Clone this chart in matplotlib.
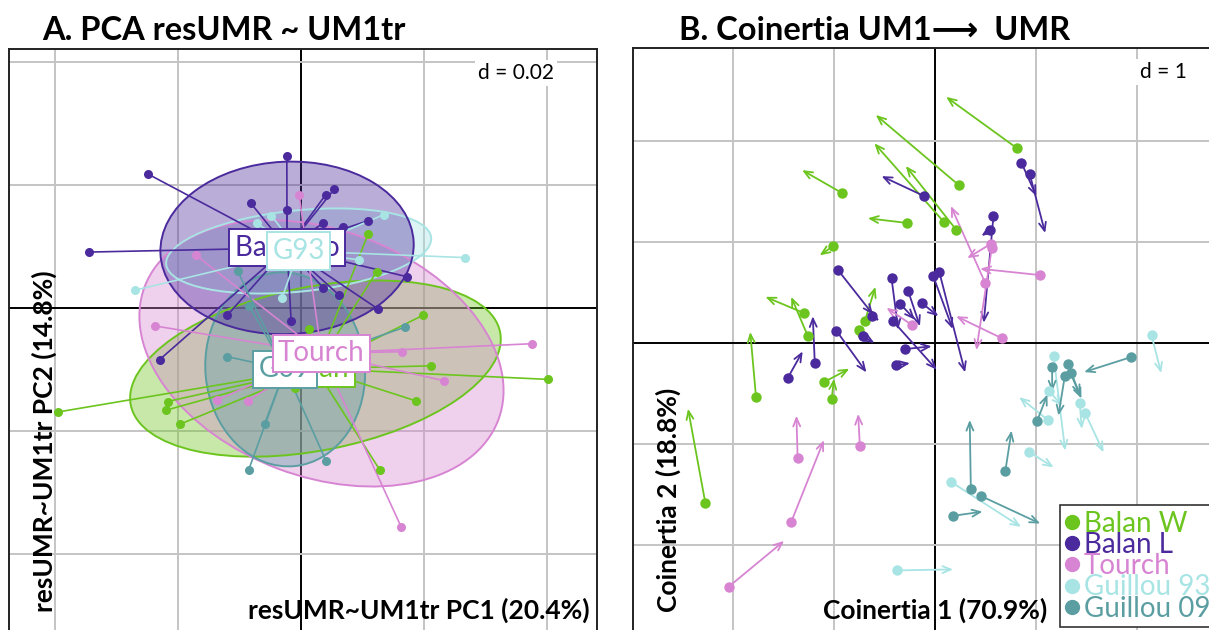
import numpy as np
import matplotlib.pyplot as plt
from matplotlib.patches import Ellipse
from matplotlib.lines import Line2D

plt.rcParams['font.family'] = ['Lato', 'DejaVu Sans']

W, H = 1209, 630

groups = ['Balan W', 'Balan L', 'Tourch', 'Guillou 93', 'Guillou 09']
short_names = ['Balan', 'Balan Lo', 'Tourch', 'G93', 'G09']
colors = ['#6cc51e', '#4a2a9c', '#d785d2', '#a8e4e4', '#5b9ea2']

# ---- panel A : PCA of resUMR ~ UM1tr (scores) ----
pca_x = {
    'Balan W': [0.0109, 0.0123, 0.0013, 0.0198, 0.0212, 0.0401, 0.0187, 0.0128, -0.0395, -0.0217, -0.0219, -0.0197,
                0.0000, 0.0020, -0.0010],
    'Balan L': [-0.0023, -0.0249, -0.0345, -0.0082, -0.0023, 0.0040, 0.0054, 0.0036, 0.0068, 0.0109, 0.0172,
                0.0126, 0.0036, 0.0062, -0.0120, -0.0016, -0.0230],
    'Tourch': [-0.0003, -0.0171, -0.0238, 0.0164, 0.0376, 0.0232, -0.0137, -0.0086, 0.0163],
    'Guillou 93': [-0.0072, -0.0048, 0.0135, 0.0267, -0.0270, -0.0031, 0.0095, -0.0050, -0.0060],
    'Guillou 09': [-0.0103, -0.0084, -0.0120, 0.0169, -0.0059, -0.0085, 0.0041, -0.0010, 0.0020],
}
pca_y = {
    'Balan W': [0.0120, 0.0059, -0.0034, -0.0012, -0.0094, -0.0116, -0.0151, -0.0263, -0.0169, -0.0152, -0.0166, -0.0189,
                -0.0070, -0.0110, -0.0130],
    'Balan L': [0.0248, 0.0218, 0.0091, 0.0171, 0.0159, 0.0184, 0.0193, 0.0138, 0.0132, 0.0142, 0.0051,
                -0.0002, 0.0033, 0.0021, -0.0012, -0.0021, -0.0084],
    'Tourch': [0.0184, 0.0086, -0.0029, -0.0071, -0.0058, -0.0118, -0.0150, -0.0151, -0.0356],
    'Guillou 93': [0.0138, 0.0150, 0.0152, 0.0082, 0.0029, 0.0016, 0.0078, 0.0100, 0.0090],
    'Guillou 09': [0.0060, 0.0003, -0.0079, -0.0031, -0.0188, -0.0263, -0.0249, -0.0060, -0.0090],
}

# ---- panel B : coinertia, UM1 (dot) -> UMR (arrow head) ----
co_x0 = {
    'Balan W': [0.814, 0.236, -0.924, -0.281, 0.091, 0.209, -1.011, -1.301, -1.258, -0.695, -0.757, -1.099, -1.023, -1.772, -2.274],
    'Balan L': [0.856, 0.939, -0.106, 0.579, 0.546, -0.96, -0.43, -0.265, -0.348, -0.132, -0.017, 0.043, -0.414,
                -0.298, -0.977, -0.712, -1.19, -1.46, -0.39, -0.62],
    'Tourch': [0.55, 0.563, 1.043, 0.497, 0.662, -0.227, -1.36, -0.744, -1.423, -2.043],
    'Guillou 93': [2.144, 1.175, 1.129, 1.118, 1.433, 1.487, 0.928, 0.156, -0.376],
    'Guillou 09': [1.943, 1.16, 1.315, 1.342, 1.285, 1.01, 0.696, 0.355, 0.457, 0.175],
}
co_y0 = {
    'Balan W': [1.927, 1.563, 1.487, 1.189, 1.195, 1.123, 0.957, 0.298, 0.066, 0.215, 0.126, -0.387, -0.556, -0.536, -1.583],
    'Balan L': [1.785, 1.669, 1.454, 1.258, 1.119, 0.722, 0.639, 0.513, 0.391, 0.397, 0.662, 0.702, 0.215,
                -0.06, 0.123, 0.066, -0.2, -0.35, -0.22, 0.265],
    'Tourch': [0.98, 0.944, 0.672, 0.596, 0.047, 0.178, -1.135, -1.017, -1.771, -2.414],
    'Guillou 93': [0.076, -0.132, -0.477, -0.762, -0.596, -0.695, -1.076, -1.374, -2.252],
    'Guillou 09': [-0.139, -0.235, -0.205, -0.298, -0.331, -0.775, -1.272, -1.445, -1.516, -1.712],
}
co_x1 = {
    'Balan W': [0.11, -0.586, -1.316, -0.665, -0.6, -0.289, -1.142, -1.679, -1.424, -0.59, -0.79, -0.848, -1.0, -1.829, -2.445],
    'Balan L': [1.004, 1.091, -0.529, 0.483, 0.46, -0.613, -0.364, -0.149, -0.199, 0.033, 0.175, 0.298, 0.017,
                -0.033, -0.679, -0.6, -1.21, -1.31, -0.248, -0.55],
    'Tourch': [0.32, 0.41, 0.447, 0.157, 0.21, -0.48, -1.372, -0.761, -1.1, -1.494],
    'Guillou 93': [2.24, 1.289, 1.26, 0.833, 1.454, 1.669, 1.175, 0.852, 0.179],
    'Guillou 09': [1.477, 1.16, 1.437, 1.45, 1.222, 1.113, 0.758, 0.344, 1.042, 0.471],
}
co_y1 = {
    'Balan W': [2.437, 2.258, 1.712, 1.235, 1.977, 1.752, 0.868, 0.457, 0.457, 0.556, 0.17, -0.255, -0.354, 0.109, -0.652],
    'Balan L': [1.454, 1.089, 1.652, 0.2, 1.06, 0.281, 0.132, 0.166, 0.232, 0.265, 0.139, -0.291, -0.265,
                -0.033, -0.291, 0.0, 0.265, -0.083, -0.2, 0.22],
    'Tourch': [0.84, -0.07, 0.735, 1.356, 0.265, 0.348, -0.72, -0.702, -0.962, -1.96],
    'Guillou 93': [-0.298, -1.066, -0.62, -0.536, -0.851, -1.083, -1.232, -1.821, -2.242],
    'Guillou 09': [-0.288, -0.48, -0.52, -0.55, -0.719, -0.51, -0.868, -0.762, -1.788, -1.67],
}


def px_rect(x0, y0, x1, y1):
    return [x0 / W, 1 - y1 / H, (x1 - x0) / W, (y1 - y0) / H]


def grid(ax, d, xlim, ylim):
    for v in np.arange(np.ceil(xlim[0] / d), np.floor(xlim[1] / d) + 1) * d:
        ax.axvline(v, color='black' if abs(v) < 1e-9 else '#c4c4c4', lw=1.4, zorder=0)
    for v in np.arange(np.ceil(ylim[0] / d), np.floor(ylim[1] / d) + 1) * d:
        ax.axhline(v, color='black' if abs(v) < 1e-9 else '#c4c4c4', lw=1.4, zorder=0)
    ax.set_xlim(xlim)
    ax.set_ylim(ylim)
    ax.set_xticks([])
    ax.set_yticks([])
    for s in ax.spines.values():
        s.set_linewidth(1.4)
        s.set_color('#222222')


fig = plt.figure(figsize=(W / 100, H / 100), dpi=100)

# ---------------- A ----------------
axA = fig.add_axes(px_rect(9, 49, 597, 640))
grid(axA, 0.02, (-0.04748, 0.04814), (-0.05398, 0.04212))

ell_order = ['Balan W', 'Tourch', 'Guillou 09', 'Guillou 93', 'Balan L']
for g in ell_order:
    c = colors[groups.index(g)]
    x = np.array(pca_x[g]); y = np.array(pca_y[g])
    cx, cy = x.mean(), y.mean()
    cov = np.cov(np.vstack([x, y]), bias=True)
    vals, vecs = np.linalg.eigh(cov)
    ang = np.degrees(np.arctan2(vecs[1, 1], vecs[0, 1]))
    w, h = 2 * 1.5 * np.sqrt(vals[1]), 2 * 1.5 * np.sqrt(vals[0])
    axA.add_patch(Ellipse((cx, cy), w, h, angle=ang, facecolor=c, alpha=0.38, edgecolor='none', zorder=1))
    axA.add_patch(Ellipse((cx, cy), w, h, angle=ang, facecolor='none', edgecolor=c, lw=1.4, zorder=2))

for g, c in zip(groups, colors):
    x = np.array(pca_x[g]); y = np.array(pca_y[g])
    cx, cy = x.mean(), y.mean()
    for xi, yi in zip(x, y):
        axA.plot([cx, xi], [cy, yi], color=c, lw=1.2, zorder=3)
    axA.plot(x, y, 'o', color=c, ms=6.5, mec='none', zorder=4)

lab_z = {'Balan W': 10, 'Balan L': 11, 'Guillou 09': 12, 'Tourch': 13, 'Guillou 93': 14}
for g, c, nm in zip(groups, colors, short_names):
    cx, cy = np.mean(pca_x[g]), np.mean(pca_y[g])
    axA.text(cx, cy, nm, color=c, fontsize=20, ha='center', va='center', zorder=lab_z[g],
             bbox=dict(boxstyle='square,pad=0.2', fc='white', ec=c, lw=1.4))

axA.text(0.862, 0.96, 'd = 0.02', transform=axA.transAxes, ha='center', va='center', fontsize=15,
         bbox=dict(boxstyle='square,pad=0.15', fc='white', ec='none'), zorder=20)

# ---------------- B ----------------
axB = fig.add_axes(px_rect(633, 48, 1220, 640))
grid(axB, 1.0, (-2.99, 2.822), (-2.941, 2.921))

for g, c in zip(groups, colors):
    for x0, y0, x1, y1 in zip(co_x0[g], co_y0[g], co_x1[g], co_y1[g]):
        axB.annotate('', xy=(x1, y1), xytext=(x0, y0), zorder=3,
                     arrowprops=dict(arrowstyle='->,head_length=0.6,head_width=0.25', color=c, lw=1.3,
                                     shrinkA=0, shrinkB=0))
    axB.plot(co_x0[g], co_y0[g], 'o', color=c, ms=7.5, mec='none', zorder=4)

axB.text(0.903, 0.96, 'd = 1', transform=axB.transAxes, ha='center', va='center', fontsize=15,
         bbox=dict(boxstyle='square,pad=0.15', fc='white', ec='none'), zorder=20)

handles = [Line2D([], [], marker='o', ls='none', color=c, ms=10) for c in colors]
leg = fig.legend(handles, groups, loc='upper left', bbox_to_anchor=(1060 / W, 1 - 505 / H),
                 fontsize=20, frameon=True, fancybox=False, edgecolor='#333333', framealpha=1,
                 handlelength=0.45, handletextpad=0.2, labelspacing=-0.17, borderpad=0.2,
                 borderaxespad=0, labelcolor=colors)
leg.get_frame().set_linewidth(1.2)

# ---------------- titles and axis names ----------------
fig.text(42 / W, 1 - 40 / H, 'A. PCA resUMR ~ UM1tr', fontsize=23.5, fontweight='bold', va='baseline')
fig.text(679 / W, 1 - 40 / H, 'B. Coinertia UM1\u27f6  UMR', fontsize=23.5, fontweight='bold', va='baseline')
fig.text(590 / W, 1 - 610 / H, 'resUMR~UM1tr PC1 (20.4%)', fontsize=19, fontweight='bold',
         ha='right', va='center')
fig.text(44 / W, 1 - 612 / H, 'resUMR~UM1tr PC2 (14.8%)', fontsize=19, fontweight='bold',
         rotation=90, ha='center', va='bottom')
fig.text(1047 / W, 1 - 610 / H, 'Coinertia 1 (70.9%)', fontsize=19, fontweight='bold',
         ha='right', va='center')
fig.text(668 / W, 1 - 612 / H, 'Coinertia 2 (18.8%)', fontsize=19, fontweight='bold',
         rotation=90, ha='center', va='bottom')

fig.savefig('out.png', dpi=100)
